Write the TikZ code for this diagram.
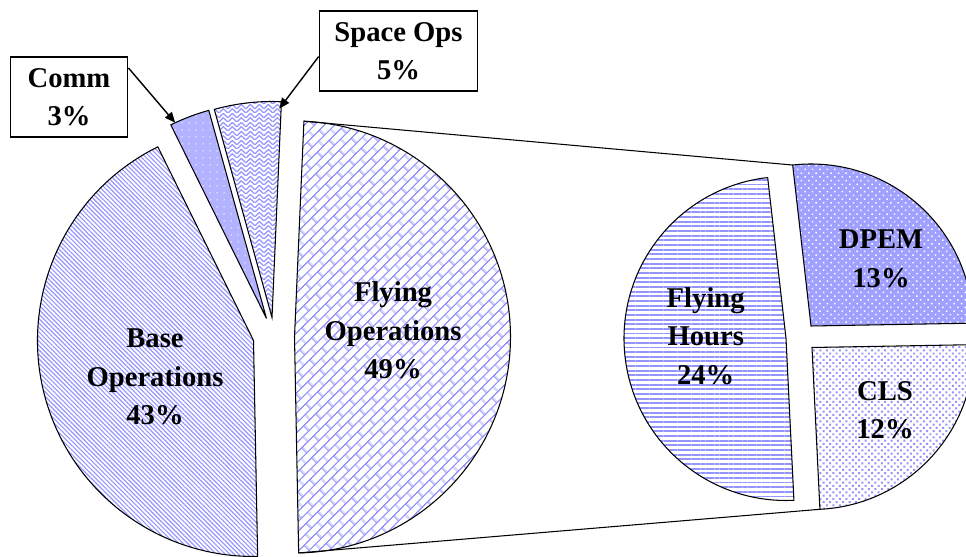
\documentclass[tikz,border=0pt]{standalone}
\usepackage{fontspec}
\setmainfont{Liberation Serif}
\usepackage{tikz}
\usetikzlibrary{arrows.meta}
\usetikzlibrary{calc}
\usetikzlibrary{patterns.meta}

\definecolor{patblue}{RGB}{148,148,255}
\definecolor{commbg}{RGB}{178,178,255}
\definecolor{dpembg}{RGB}{160,160,255}

\tikzdeclarepattern{
  name=diagbricks,
  type=uncolored,
  bounding box={(0,0) and (10pt,8pt)},
  tile size={(10pt,8pt)},
  tile transformation={rotate=45},
  code={
    \draw[line width=0.75pt] (0,2pt) -- (10pt,2pt);
    \draw[line width=0.75pt] (0,6pt) -- (10pt,6pt);
    \draw[line width=0.75pt] (2.5pt,2pt) -- (2.5pt,6pt);
    \draw[line width=0.75pt] (7.5pt,6pt) -- (7.5pt,8pt);
    \draw[line width=0.75pt] (7.5pt,0pt) -- (7.5pt,2pt);
  }
}

\tikzdeclarepattern{
  name=weave,
  type=uncolored,
  bounding box={(0,0) and (5pt,5pt)},
  tile size={(5pt,5pt)},
  code={
    \draw[line width=0.7pt] (0,0) -- (2.5pt,2.5pt) -- (5pt,0);
    \draw[line width=0.7pt] (0,2.5pt) -- (2.5pt,5pt) -- (5pt,2.5pt);
  }
}

\begin{document}
\begin{tikzpicture}[x=0.02cm,y=0.02cm,
  slice/.style={draw=black,line width=0.6pt,pattern color=patblue},
  lbl/.style={font=\fontsize{16.3}{21.8}\selectfont\bfseries,align=center},
  callout/.style={lbl,draw,line width=0.8pt,fill=white,minimum height=45.4pt},
  leader/.style={line width=0.8pt,-{Triangle[length=6pt,width=5pt]}}]
\useasboundingbox (0,0) rectangle (966,557);
\clip (0,0) rectangle (966,557);
% main pie
\coordinate (flyopsc) at (294.5,220);
\coordinate (baseopsc) at (253.5,216.5);
\coordinate (commc) at (266.5,238.5);
\coordinate (spaceopsc) at (272,239.5);
\draw[slice,pattern={Lines[angle=-45,distance=1.8pt,line width=0.65pt]}] (baseopsc) -- ++(116.3:216) arc[start angle=116.3,end angle=271.1,radius=216] -- cycle;
\draw[slice,preaction={fill=commbg},pattern={Dots[distance=4pt,radius=0.45pt]},pattern color=white] (commc) -- ++(105.5:216) arc[start angle=105.5,end angle=116.3,radius=216] -- cycle;
\draw[slice,pattern=weave] (spaceopsc) -- ++(87.5:216) arc[start angle=87.5,end angle=105.5,radius=216] -- cycle;
\draw[slice,pattern=diagbricks] (flyopsc) -- ++(87.5:216) coordinate (flyopstop) arc[start angle=87.5,end angle=-88.9,radius=216] coordinate (flyopsbot) -- cycle;
% second pie
\coordinate (flyhrsc) at (786,218.5);
\coordinate (dpemc) at (811,231);
\coordinate (clsc) at (812,209.5);
\draw[slice,pattern={Lines[distance=2.65pt,line width=1.1pt]}] (flyhrsc) -- ++(96.5:162) arc[start angle=96.5,end angle=272.8,radius=162] -- cycle;
\draw[slice,preaction={fill=dpembg},pattern={Dots[angle=45,distance=3pt,radius=0.6pt]},pattern color=white] (dpemc) -- ++(1:162) arc[start angle=1,end angle=96.5,radius=162] coordinate (dpemtop) -- cycle;
\draw[slice,pattern={Dots[angle=45,distance=2.6pt,radius=0.8pt]}] (clsc) -- ++(272.8:162) coordinate (clsbot) arc[start angle=272.8,end angle=361,radius=162] -- cycle;
% connectors
\draw[line width=0.6pt] (flyopstop) -- (dpemtop);
\draw[line width=0.6pt] (flyopsbot) -- (clsbot);
% labels
\node[lbl] (baseops) at (155,180) {Base\\Operations\\43\%};
\node[lbl] (flyops) at (393,226.7) {Flying\\Operations\\49\%};
\node[lbl] (flyhrs) at (705.7,221) {Flying\\Hours\\24\%};
\node[lbl] (dpem) at (881,298.2) {DPEM\\13\%};
\node[lbl] (cls) at (885,146.5) {CLS\\12\%};
\node[callout,minimum width=66.9pt] (comm) at (69,460) {Comm\\3\%};
\node[callout,minimum width=90.1pt] (spaceops) at (398.5,506) {Space Ops\\5\%};
\path (commc) ++(115:216) coordinate (commtip);
\path (spaceopsc) ++(88:209) coordinate (spaceopstip);
\draw[leader] (comm.26) -- (commtip);
\draw[leader] (spaceops.184) -- (spaceopstip);
\end{tikzpicture}
\end{document}
